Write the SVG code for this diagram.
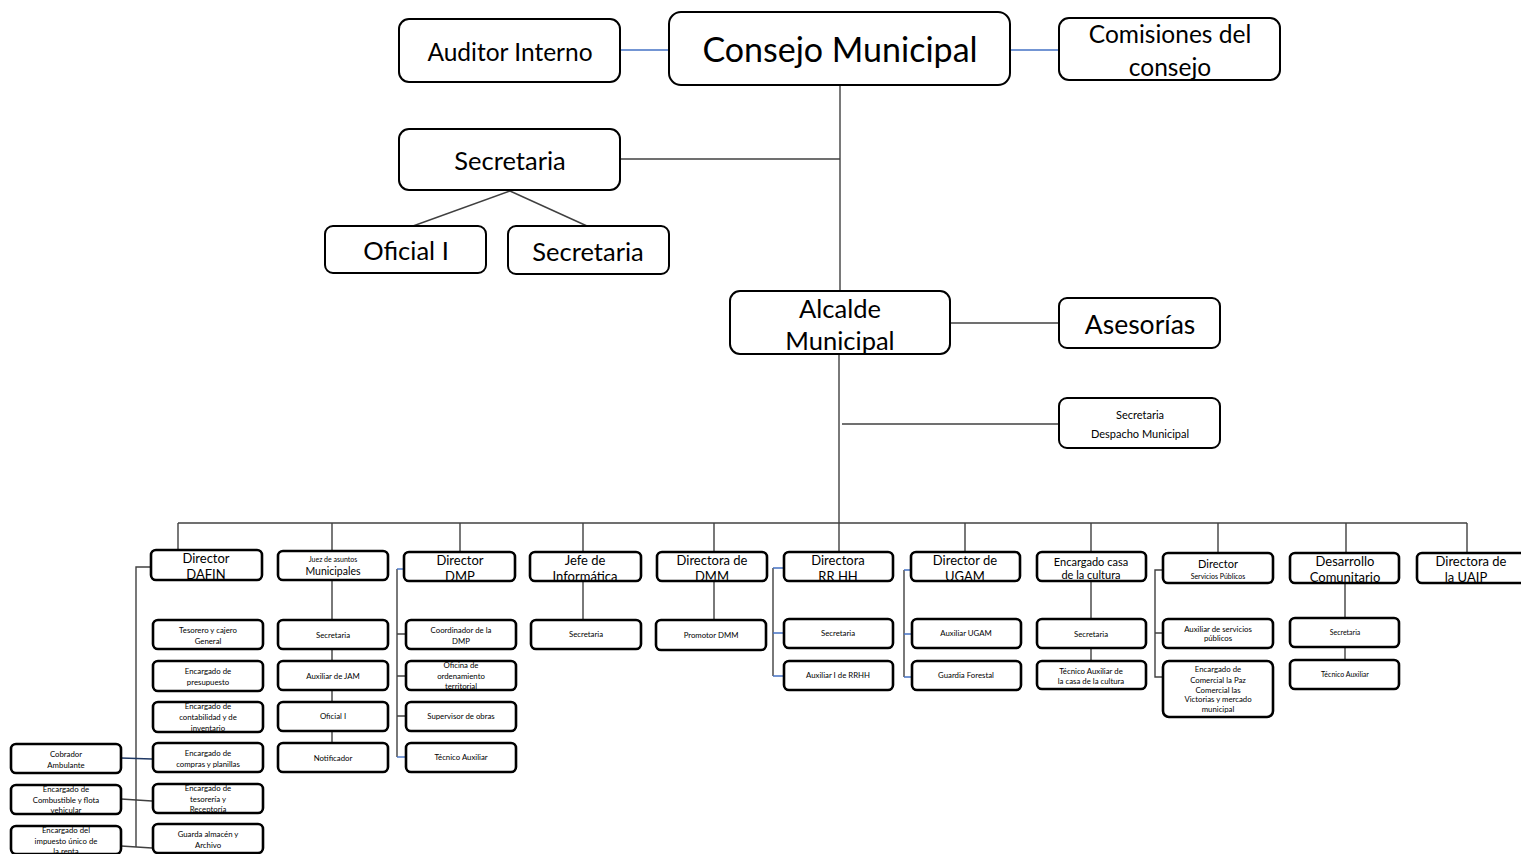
<svg xmlns="http://www.w3.org/2000/svg" width="1521" height="854" viewBox="0 0 1521 854">
<style>
text{font-family:Lato,"Open Sans","Liberation Sans",sans-serif;fill:#000;text-anchor:middle;dominant-baseline:central}
.big{fill:#fff;stroke:#000;stroke-width:2}
.sm{fill:#fff;stroke:#000;stroke-width:2.6}
.ln{stroke:#404040;stroke-width:1.4;fill:none}
.bl{stroke:#4472C4;stroke-width:1.4;fill:none}
.dk{stroke:#1F3864;stroke-width:1.4;fill:none}
.t23{font-size:24.5px}.t24{font-size:25.5px}.t34{font-size:34px}
.t13{font-size:13px}.t11{font-size:11px}.t10{font-size:10.5px}.t8{font-size:7.8px}.t7{font-size:7px}
</style>
<rect width="1521" height="854" fill="#fff"/>
<g id="connectors">
<line class="bl" x1="620" y1="50" x2="669" y2="50"/>
<line class="bl" x1="1010" y1="50" x2="1059" y2="50"/>
<line class="ln" x1="840" y1="85" x2="840" y2="292"/>
<line class="ln" x1="620" y1="159" x2="840" y2="159"/>
<line class="ln" x1="510" y1="191" x2="413" y2="226"/>
<line class="ln" x1="510" y1="191" x2="587" y2="226"/>
<line class="ln" x1="950" y1="323" x2="1059" y2="323"/>
<line class="ln" x1="839" y1="342" x2="839" y2="523"/>
<line class="ln" x1="842" y1="424" x2="1059" y2="424"/>
<line class="ln" x1="178" y1="523" x2="1467" y2="523"/>
<path class="ln" d="M178 523V550M332 523V551M460 523V552M583 523V552M714 523V552M839 523V552M965 523V552M1091 523V552M1218 523V553M1346 523V553M1467 523V553"/>
<path class="ln" d="M151 567H136V847"/>
<line class="dk" x1="121" y1="758" x2="152" y2="759"/>
<line class="ln" x1="121" y1="799" x2="152" y2="801"/>
<line class="ln" x1="121" y1="846" x2="152" y2="848"/>
<line class="ln" x1="332" y1="580" x2="332" y2="743"/>
<line class="ln" x1="397" y1="569" x2="397" y2="757"/>
<line class="bl" x1="397" y1="569" x2="404" y2="569"/>
<path class="ln" d="M397 634H406M397 676H406M397 716H406"/>
<line class="bl" x1="397" y1="757" x2="406" y2="757"/>
<line class="ln" x1="583" y1="581" x2="583" y2="620"/>
<line class="ln" x1="714" y1="581" x2="714" y2="620"/>
<line class="ln" x1="773" y1="568" x2="773" y2="676"/>
<path class="bl" d="M773 568H784M773 633H784M773 676H784"/>
<line class="ln" x1="904" y1="570" x2="904" y2="677"/>
<path class="bl" d="M904 570H911M904 634H912M904 677H912"/>
<line class="ln" x1="1091" y1="581" x2="1091" y2="661"/>
<path class="ln" d="M1163 570H1155V677H1163M1155 633H1163"/>
<line class="ln" x1="1345" y1="583" x2="1345" y2="660"/>
</g>

<g id="auditor"><rect class="big" x="399" y="19" width="221" height="63" rx="10"/><text class="t23" x="510" y="51">Auditor Interno</text></g>
<g id="consejo"><rect class="big" x="669" y="12" width="341" height="73" rx="12"/><text class="t34" x="840" y="48">Consejo Municipal</text></g>
<g id="comisiones"><rect class="big" x="1059" y="18" width="221" height="62" rx="10"/><text class="t23" x="1170" y="33">Comisiones del</text><text class="t23" x="1170" y="66">consejo</text></g>
<g id="secretaria-consejo"><rect class="big" x="399" y="129" width="221" height="61" rx="10"/><text class="t24" x="510" y="160">Secretaria</text></g>
<g id="oficial-i"><rect class="big" x="325" y="226" width="161" height="47" rx="8"/><text class="t24" x="406" y="250">Oficial I</text></g>
<g id="secretaria-2"><rect class="big" x="508" y="226" width="161" height="48" rx="8"/><text class="t24" x="588" y="251">Secretaria</text></g>
<g id="alcalde"><rect class="big" x="730" y="291" width="220" height="63" rx="10"/><text class="t24" x="840" y="308">Alcalde</text><text class="t24" x="840" y="340">Municipal</text></g>
<g id="asesorias"><rect class="big" x="1059" y="298" width="161" height="50" rx="8"/><text class="t24" x="1140" y="324" style="font-size:26.5px">Asesorías</text></g>
<g id="secretaria-despacho"><rect class="big" x="1059" y="398" width="161" height="50" rx="8"/><text class="t11" x="1140" y="414">Secretaria</text><text class="t11" x="1140" y="433">Despacho Municipal</text></g>

<g id="dafin"><rect class="sm" x="151" y="550" width="111" height="30" rx="5"/><text class="t13" x="206" y="558">Director</text><text class="t13" x="206" y="574">DAFIN</text></g>
<g id="tesorero"><rect class="sm" x="153" y="620" width="110" height="29" rx="5"/><text class="t8" x="208" y="630">Tesorero y cajero</text><text class="t8" x="208" y="641">General</text></g>
<g id="presupuesto"><rect class="sm" x="153" y="661" width="110" height="30" rx="5"/><text class="t8" x="208" y="671">Encargado de</text><text class="t8" x="208" y="682">presupuesto</text></g>
<g id="contabilidad"><rect class="sm" x="153" y="702" width="110" height="30" rx="5"/><text class="t8" x="208" y="706">Encargado de</text><text class="t8" x="208" y="717">contabilidad y de</text><text class="t8" x="208" y="728">inventario</text></g>
<g id="compras"><rect class="sm" x="153" y="743" width="110" height="29" rx="5"/><text class="t8" x="208" y="753">Encargado de</text><text class="t8" x="208" y="764">compras y planillas</text></g>
<g id="tesoreria"><rect class="sm" x="153" y="784" width="110" height="29" rx="5"/><text class="t8" x="208" y="788">Encargado de</text><text class="t8" x="208" y="799">tesorería y</text><text class="t8" x="208" y="809">Receptoría</text></g>
<g id="guarda"><rect class="sm" x="153" y="824" width="110" height="29" rx="5"/><text class="t8" x="208" y="834">Guarda almacén y</text><text class="t8" x="208" y="845">Archivo</text></g>
<g id="cobrador"><rect class="sm" x="11" y="744" width="110" height="29" rx="5"/><text class="t8" x="66" y="754">Cobrador</text><text class="t8" x="66" y="765">Ambulante</text></g>
<g id="combustible"><rect class="sm" x="11" y="785" width="110" height="29" rx="5"/><text class="t8" x="66" y="789">Encargado de</text><text class="t8" x="66" y="800">Combustible y flota</text><text class="t8" x="66" y="810">vehicular</text></g>
<g id="impuesto"><rect class="sm" x="11" y="826" width="110" height="28" rx="5"/><text class="t8" x="66" y="830">Encargado del</text><text class="t8" x="66" y="841">impuesto único de</text><text class="t8" x="66" y="851">la renta</text></g>

<g id="juez"><rect class="sm" x="278" y="551" width="110" height="29" rx="5"/><text class="t7" x="333" y="559">Juez de asuntos</text><text class="t10" x="333" y="571">Municipales</text></g>
<g id="juez-secretaria"><rect class="sm" x="278" y="620" width="110" height="29" rx="5"/><text class="t8" x="333" y="635">Secretaria</text></g>
<g id="auxiliar-jam"><rect class="sm" x="278" y="661" width="110" height="29" rx="5"/><text class="t8" x="333" y="676">Auxiliar de JAM</text></g>
<g id="juez-oficial"><rect class="sm" x="278" y="702" width="110" height="29" rx="5"/><text class="t8" x="333" y="716">Oficial I</text></g>
<g id="notificador"><rect class="sm" x="278" y="743" width="110" height="29" rx="5"/><text class="t8" x="333" y="758">Notificador</text></g>

<g id="dmp"><rect class="sm" x="404" y="552" width="111" height="29" rx="5"/><text class="t13" x="460" y="560">Director</text><text class="t13" x="460" y="576">DMP</text></g>
<g id="coordinador"><rect class="sm" x="406" y="620" width="110" height="29" rx="5"/><text class="t8" x="461" y="630">Coordinador de la</text><text class="t8" x="461" y="641">DMP</text></g>
<g id="ordenamiento"><rect class="sm" x="406" y="661" width="110" height="29" rx="5"/><text class="t8" x="461" y="665">Oficina de</text><text class="t8" x="461" y="676">ordenamiento</text><text class="t8" x="461" y="686">territorial</text></g>
<g id="supervisor"><rect class="sm" x="406" y="702" width="110" height="29" rx="5"/><text class="t8" x="461" y="716">Supervisor de obras</text></g>
<g id="dmp-tecnico"><rect class="sm" x="406" y="743" width="110" height="29" rx="5"/><text class="t8" x="461" y="757">Técnico Auxiliar</text></g>

<g id="informatica"><rect class="sm" x="530" y="552" width="111" height="29" rx="5"/><text class="t13" x="585" y="560">Jefe de</text><text class="t13" x="585" y="576">Informática</text></g>
<g id="informatica-secretaria"><rect class="sm" x="531" y="620" width="110" height="29" rx="5"/><text class="t8" x="586" y="634">Secretaria</text></g>

<g id="dmm"><rect class="sm" x="657" y="552" width="110" height="29" rx="5"/><text class="t13" x="712" y="560">Directora de</text><text class="t13" x="712" y="576">DMM</text></g>
<g id="promotor"><rect class="sm" x="656" y="620" width="110" height="30" rx="5"/><text class="t8" x="711" y="635">Promotor DMM</text></g>

<g id="rrhh"><rect class="sm" x="784" y="552" width="109" height="29" rx="5"/><text class="t13" x="838" y="560">Directora</text><text class="t13" x="838" y="576">RR HH</text></g>
<g id="rrhh-secretaria"><rect class="sm" x="784" y="619" width="109" height="29" rx="5"/><text class="t8" x="838" y="633">Secretaria</text></g>
<g id="rrhh-auxiliar"><rect class="sm" x="784" y="661" width="109" height="29" rx="5"/><text class="t8" x="838" y="675">Auxiliar I de RRHH</text></g>

<g id="ugam"><rect class="sm" x="911" y="552" width="109" height="29" rx="5"/><text class="t13" x="965" y="560">Director de</text><text class="t13" x="965" y="576">UGAM</text></g>
<g id="ugam-auxiliar"><rect class="sm" x="912" y="619" width="109" height="29" rx="5"/><text class="t8" x="966" y="633">Auxiliar UGAM</text></g>
<g id="guardia"><rect class="sm" x="912" y="661" width="109" height="29" rx="5"/><text class="t8" x="966" y="675">Guardia Forestal</text></g>

<g id="casa-cultura"><rect class="sm" x="1037" y="552" width="109" height="29" rx="5"/><text class="t11" x="1091" y="561">Encargado casa</text><text class="t11" x="1091" y="574">de la cultura</text></g>
<g id="casa-secretaria"><rect class="sm" x="1037" y="619" width="109" height="29" rx="5"/><text class="t8" x="1091" y="634">Secretaria</text></g>
<g id="casa-tecnico"><rect class="sm" x="1037" y="661" width="109" height="28" rx="5"/><text class="t8" x="1091" y="671">Técnico Auxiliar de</text><text class="t8" x="1091" y="681">la casa de la cultura</text></g>

<g id="servicios"><rect class="sm" x="1163" y="553" width="110" height="30" rx="5"/><text class="t11" x="1218" y="563">Director</text><text class="t7" x="1218" y="576">Servicios Públicos</text></g>
<g id="servicios-auxiliar"><rect class="sm" x="1163" y="619" width="110" height="29" rx="5"/><text class="t8" x="1218" y="629">Auxiliar de servicios</text><text class="t8" x="1218" y="638">públicos</text></g>
<g id="comercial"><rect class="sm" x="1163" y="661" width="110" height="56" rx="6"/><text class="t8" x="1218" y="669">Encargado de</text><text class="t8" x="1218" y="680">Comercial la Paz</text><text class="t8" x="1218" y="690">Comercial las</text><text class="t8" x="1218" y="699">Victorias y mercado</text><text class="t8" x="1218" y="709">municipal</text></g>

<g id="desarrollo"><rect class="sm" x="1290" y="553" width="109" height="30" rx="5"/><text class="t13" x="1345" y="561">Desarrollo</text><text class="t13" x="1345" y="577">Comunitario</text></g>
<g id="desarrollo-secretaria"><rect class="sm" x="1290" y="618" width="109" height="29" rx="5"/><text class="t7" x="1345" y="632">Secretaria</text></g>
<g id="desarrollo-tecnico"><rect class="sm" x="1290" y="660" width="109" height="29" rx="5"/><text class="t7" x="1345" y="674">Técnico Auxiliar</text></g>

<g id="uaip"><rect class="sm" x="1417" y="553" width="112" height="30" rx="5"/><text class="t13" x="1471" y="561">Directora de</text><text class="t13" x="1466" y="577">la UAIP</text></g>
</svg>
